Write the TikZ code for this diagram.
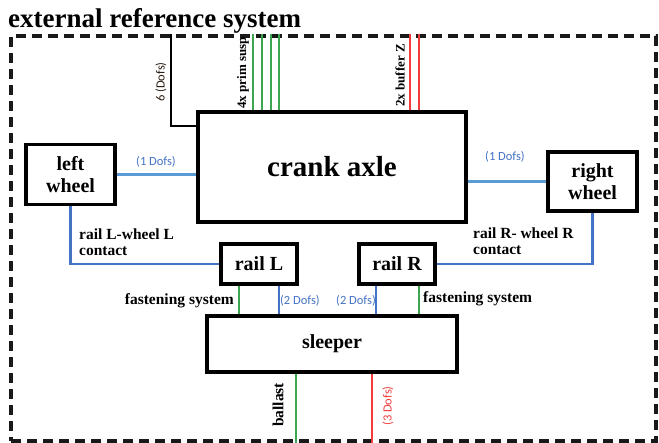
\documentclass[tikz,border=0pt]{standalone}
\usepackage{fontspec}
\setmainfont{Liberation Serif}
\newfontfamily\carl{Carlito}
\definecolor{lblue}{RGB}{91,155,213}
\definecolor{dblue}{RGB}{68,114,196}
\definecolor{lgreen}{RGB}{60,165,80}
\definecolor{lred}{RGB}{240,60,60}
\tikzset{
  box/.style={draw=black, line width=3.4pt, inner sep=0pt, align=center, font=\bfseries\fontsize{20}{22}\selectfont},
  conn/.style={line width=2.2pt},
  lbl/.style={inner sep=0pt, font=\bfseries\fontsize{15.5}{16}\selectfont},
  dof/.style={inner sep=0pt, font=\carl\fontsize{12.5}{13}\selectfont},
  toplbl/.style={inner sep=0pt, rotate=90, font=\bfseries\fontsize{13}{14}\selectfont},
}
\begin{document}
\begin{tikzpicture}[x=1pt,y=-1pt]
\useasboundingbox (0,0) rectangle (659,443);
% title
\node[anchor=base west, inner sep=0pt, font=\bfseries\fontsize{27}{28}\selectfont] (title) at (8,28) {external reference system};
% frame
\node[draw=black!90, line width=3.3pt, dash pattern=on 10pt off 6pt, minimum width=645pt, minimum height=405pt, inner sep=0pt] (frame) at (333.5,238.5) {};
% boxes
\node[box, minimum width=268pt, minimum height=110pt, font=\bfseries\fontsize{29}{30}\selectfont] (crank) at (332,167) {crank axle};
\node[box, minimum width=89pt, minimum height=60pt] (lw) at (70.5,174.5) {left\\wheel};
\node[box, minimum width=89pt, minimum height=59pt] (rw) at (592.5,181.5) {right\\wheel};
\node[box, minimum width=76pt, minimum height=40pt] (railL) at (259,264) {rail L};
\node[box, minimum width=76pt, minimum height=40pt] (railR) at (397,264) {rail R};
\node[box, minimum width=250pt, minimum height=56pt] (sleeper) at (332,344) {sleeper};
% wheel - crank
\draw[conn, lblue] (lw.east) -- (lw.east -| crank.west);
\draw[conn, lblue] (crank.east |- rw.west) -- (rw.west);
% contacts
\draw[conn, dblue] (lw.south) |- (railL.west);
\draw[conn, dblue] (rw.south) |- (railR.east);
% rails - sleeper
\draw[conn, lgreen] ([xshift=-20pt]railL.south) -- ([xshift=-20pt]railL.south |- sleeper.north);
\draw[conn, dblue] ([xshift=20pt]railL.south) -- ([xshift=20pt]railL.south |- sleeper.north);
\draw[conn, dblue] ([xshift=-21pt]railR.south) -- ([xshift=-21pt]railR.south |- sleeper.north);
\draw[conn, lgreen] ([xshift=22pt]railR.south) -- ([xshift=22pt]railR.south |- sleeper.north);
% sleeper - ground
\draw[conn, lgreen] ([xshift=-36pt]sleeper.south) -- ([xshift=-36pt]sleeper.south |- frame.south);
\draw[conn, lred] ([xshift=40pt]sleeper.south) -- ([xshift=40pt]sleeper.south |- frame.south);
% crank - top
\foreach \dx in {-79,-70,-61,-53} {
  \draw[conn, lgreen] ([xshift=\dx pt]crank.north) -- ([xshift=\dx pt]crank.north |- frame.north);
}
\foreach \dx in {78,87} {
  \draw[conn, lred] ([xshift=\dx pt]crank.north) -- ([xshift=\dx pt]crank.north |- frame.north);
}
\draw[conn, black] ([yshift=-16pt]crank.north west) -| ([xshift=-25pt]crank.north west |- frame.north);
% labels
\node[dof, rotate=90, text=black!80!brown] (l6) at (161,82) {6 (Dofs)};
\node[toplbl, anchor=west] (lprim) at (243,109) {4x prim susp};
\node[toplbl, anchor=west] (lbuf) at (400,107) {2x buffer Z};
\node[dof, text=dblue] (l1a) at (156,162) {(1 Dofs)};
\node[dof, text=dblue] (l1b) at (505,157) {(1 Dofs)};
\node[lbl, anchor=north west, align=left] (lcL) at (79,229) {rail L-wheel L\\contact};
\node[lbl, anchor=north west, align=left] (lcR) at (473,228) {rail R- wheel R\\contact};
\node[lbl, anchor=east] (lfL) at (234,301) {fastening system};
\node[lbl, anchor=west] (lfR) at (423,299) {fastening system};
\node[dof, text=dblue, anchor=west] (l2a) at (280,301) {(2 Dofs)};
\node[dof, text=dblue, anchor=east] (l2b) at (376,301) {(2 Dofs)};
\node[lbl, rotate=90] (lbal) at (278,405) {ballast};
\node[dof, rotate=90, text=lred] (l3) at (388,406) {(3 Dofs)};
\end{tikzpicture}
\end{document}
